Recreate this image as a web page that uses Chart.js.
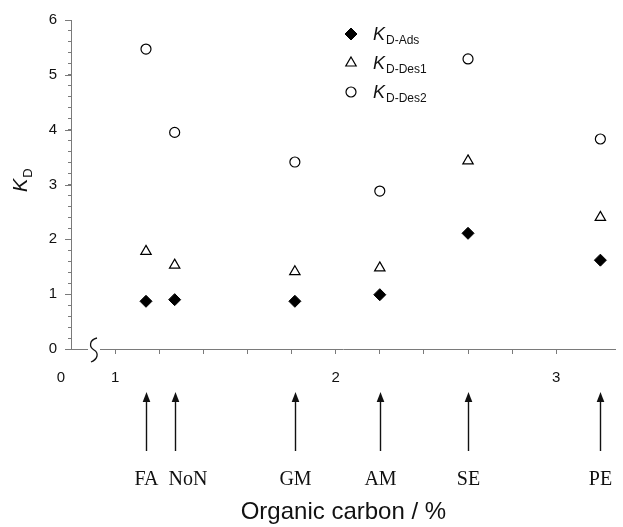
<!DOCTYPE html>
<html>
<head>
<meta charset="utf-8">
<script src="https://cdn.jsdelivr.net/npm/chart.js@4.4.1/dist/chart.umd.min.js"></script>
<style>
    html, body { margin: 0; padding: 0; background: #fff; }
    #grafico { display: block; }
</style>
</head>
<body>
<canvas id="grafico" width="623" height="527"></canvas>
<script>
// =====================================
// DATOS
// =====================================

const muestras = ["FA", "NoN", "GM", "AM", "SE", "PE"];
const carbonoOrganico = [1.14, 1.27, 1.815, 2.2, 2.6, 3.2];

const kdAds = [0.87, 0.90, 0.87, 0.99, 2.11, 1.62];
const kdDes1 = [1.78, 1.53, 1.41, 1.48, 3.43, 2.40];
const kdDes2 = [5.47, 3.95, 3.41, 2.88, 5.29, 3.83];

const subindices = ["D-Ads", "D-Des1", "D-Des2"];

const ticksX = [1, 2, 3];
const ticksY = [0, 1, 2, 3, 4, 5, 6];

// =====================================
// ESTILO
// =====================================

const SANS = '"Liberation Sans", Arial, Helvetica, sans-serif';
const SERIF = '"Liberation Serif", "Times New Roman", serif';
const GRIS_EJE = "#7a7a7a";
const NEGRO = "#111";

function puntos(ys) {
    return carbonoOrganico.map((x, i) => ({ x, y: ys[i] }));
}

function etiqueta(valor, lista) {
    const t = lista.find(v => Math.abs(v - valor) < 1e-6);
    return t === undefined ? "" : String(t);
}

// marcador pequeño para la leyenda
function dibujarMarcador(ctx, ds, x, y) {
    ctx.save();
    ctx.fillStyle = ds.backgroundColor;
    ctx.strokeStyle = ds.borderColor;
    ctx.lineWidth = ds.borderWidth;
    const opts = { pointStyle: ds.pointStyle, radius: ds.pointRadius, rotation: 0, borderWidth: ds.borderWidth };
    if (Chart.helpers && Chart.helpers.drawPoint) {
        Chart.helpers.drawPoint(ctx, opts, x, y);
    } else {
        const r = ds.pointRadius;
        ctx.beginPath();
        if (ds.pointStyle === "rectRot") {
            ctx.moveTo(x, y - r); ctx.lineTo(x + r, y); ctx.lineTo(x, y + r); ctx.lineTo(x - r, y);
        } else if (ds.pointStyle === "triangle") {
            ctx.moveTo(x, y - r); ctx.lineTo(x + r * 0.866, y + r / 2); ctx.lineTo(x - r * 0.866, y + r / 2);
        } else {
            ctx.arc(x, y, r, 0, Math.PI * 2);
        }
        ctx.closePath();
        ctx.fill();
        ctx.stroke();
    }
    ctx.restore();
}

// =====================================
// EXTRAS: corte del eje, flechas, leyenda, titulo Y
// =====================================

const extras = {
    id: "extras",
    afterDraw(chart) {
        const ctx = chart.ctx;
        const xs = chart.scales.x;
        const ys = chart.scales.y;
        const area = chart.chartArea;
        ctx.save();

        // marcas principales del eje Y un poco mas largas
        ctx.strokeStyle = GRIS_EJE;
        ctx.lineWidth = 1;
        ticksY.forEach(v => {
            const py = Math.round(ys.getPixelForValue(v)) + 0.5;
            ctx.beginPath();
            ctx.moveTo(area.left - 6, py);
            ctx.lineTo(area.left, py);
            ctx.stroke();
        });

        // corte del eje X
        const bx = area.left + 23;
        const by = area.bottom;
        ctx.fillStyle = "#fff";
        ctx.fillRect(bx - 6, by - 2, 12, 4);
        ctx.strokeStyle = NEGRO;
        ctx.lineWidth = 1.3;
        ctx.beginPath();
        ctx.moveTo(bx + 3, by - 11);
        ctx.bezierCurveTo(bx - 5, by - 9, bx - 5, by - 2, bx, by + 1);
        ctx.bezierCurveTo(bx + 5, by + 4, bx + 4, by + 10, bx - 3, by + 13);
        ctx.stroke();

        // "0" del origen, a la izquierda del corte
        ctx.fillStyle = NEGRO;
        ctx.font = "15px " + SANS;
        ctx.textAlign = "center";
        ctx.textBaseline = "middle";
        ctx.fillText("0", area.left - 10, by + 29);

        // flechas y nombres de muestras
        const puntaY = by + 43;
        const colaY = by + 102;
        const textoY = by + 131;
        ctx.font = "20px " + SERIF;
        ctx.textAlign = "left";
        let bordeAnterior = -Infinity;
        muestras.forEach((m, i) => {
            const px = Math.round(xs.getPixelForValue(carbonoOrganico[i])) + 0.5;
            ctx.strokeStyle = NEGRO;
            ctx.lineWidth = 1.4;
            ctx.beginPath();
            ctx.moveTo(px, colaY);
            ctx.lineTo(px, puntaY + 8);
            ctx.stroke();
            ctx.beginPath();
            ctx.moveTo(px, puntaY);
            ctx.lineTo(px + 3.8, puntaY + 10);
            ctx.lineTo(px - 3.8, puntaY + 10);
            ctx.closePath();
            ctx.fill();

            const w = ctx.measureText(m).width;
            let izq = px - w / 2;
            if (izq < bordeAnterior + 10) izq = bordeAnterior + 10;
            ctx.fillText(m, izq, textoY);
            bordeAnterior = izq + w;
        });

        // leyenda
        const lx = area.left + 280;
        const ly = area.top + 14;
        chart.data.datasets.forEach((ds, i) => {
            const y = ly + i * 29;
            dibujarMarcador(ctx, ds, lx, y);
            ctx.fillStyle = NEGRO;
            ctx.textAlign = "left";
            ctx.textBaseline = "alphabetic";
            ctx.font = "italic 18px " + SANS;
            ctx.fillText("K", lx + 22, y + 6);
            const kw = ctx.measureText("K").width;
            ctx.font = "12px " + SANS;
            ctx.fillText(subindices[i], lx + 23 + kw, y + 10);
        });

        // titulo del eje Y: K_D
        ctx.save();
        ctx.translate(area.left - 44, area.top + 172);
        ctx.rotate(-Math.PI / 2);
        ctx.fillStyle = NEGRO;
        ctx.textAlign = "left";
        ctx.textBaseline = "alphabetic";
        ctx.font = "italic 20px " + SANS;
        ctx.fillText("K", 0, 0);
        const kw = ctx.measureText("K").width;
        ctx.font = "13px " + SANS;
        ctx.fillText("D", kw + 1, 5);
        ctx.restore();

        ctx.restore();
    }
};

// =====================================
// GRAFICO
// =====================================

new Chart(document.getElementById("grafico"), {
    type: "scatter",
    data: {
        datasets: [
            {
                label: "KD-Ads",
                data: puntos(kdAds),
                pointStyle: "rectRot",
                pointRadius: 6,
                backgroundColor: "#000",
                borderColor: "#000",
                borderWidth: 1
            },
            {
                label: "KD-Des1",
                data: puntos(kdDes1),
                pointStyle: "triangle",
                pointRadius: 6,
                backgroundColor: "rgba(255,255,255,0)",
                borderColor: "#000",
                borderWidth: 1.2
            },
            {
                label: "KD-Des2",
                data: puntos(kdDes2),
                pointStyle: "circle",
                pointRadius: 5,
                backgroundColor: "rgba(255,255,255,0)",
                borderColor: "#000",
                borderWidth: 1.2
            }
        ]
    },
    options: {
        responsive: false,
        animation: false,
        events: [],
        layout: { padding: { top: 15, right: 6, left: 0, bottom: 0 } },
        plugins: {
            legend: { display: false },
            tooltip: { enabled: false }
        },
        scales: {
            x: {
                type: "linear",
                min: 0.8,
                max: 3.27,
                afterBuildTicks: s => { s.ticks = s.ticks.filter(t => t.value > 0.9 && t.value < 3.25); },
                afterFit: s => { s.height = 178; },
                ticks: {
                    stepSize: 0.2,
                    autoSkip: false,
                    maxRotation: 0,
                    padding: 15,
                    color: NEGRO,
                    font: { family: SANS, size: 15 },
                    callback: v => etiqueta(v, ticksX)
                },
                grid: { drawOnChartArea: false, tickLength: 5, color: GRIS_EJE },
                border: { color: GRIS_EJE, width: 1 },
                title: {
                    display: true,
                    text: "Organic carbon / %",
                    color: NEGRO,
                    font: { family: SANS, size: 24 },
                    padding: { top: 0, bottom: 0 }
                }
            },
            y: {
                min: 0,
                max: 6,
                afterFit: s => { s.width = 71; },
                ticks: {
                    stepSize: 0.2,
                    autoSkip: false,
                    padding: 11,
                    color: NEGRO,
                    font: { family: SANS, size: 15 },
                    callback: v => etiqueta(v, ticksY)
                },
                grid: { drawOnChartArea: false, tickLength: 3, color: GRIS_EJE },
                border: { color: GRIS_EJE, width: 1 }
            }
        }
    },
    plugins: [extras]
});
</script>
</body>
</html>
